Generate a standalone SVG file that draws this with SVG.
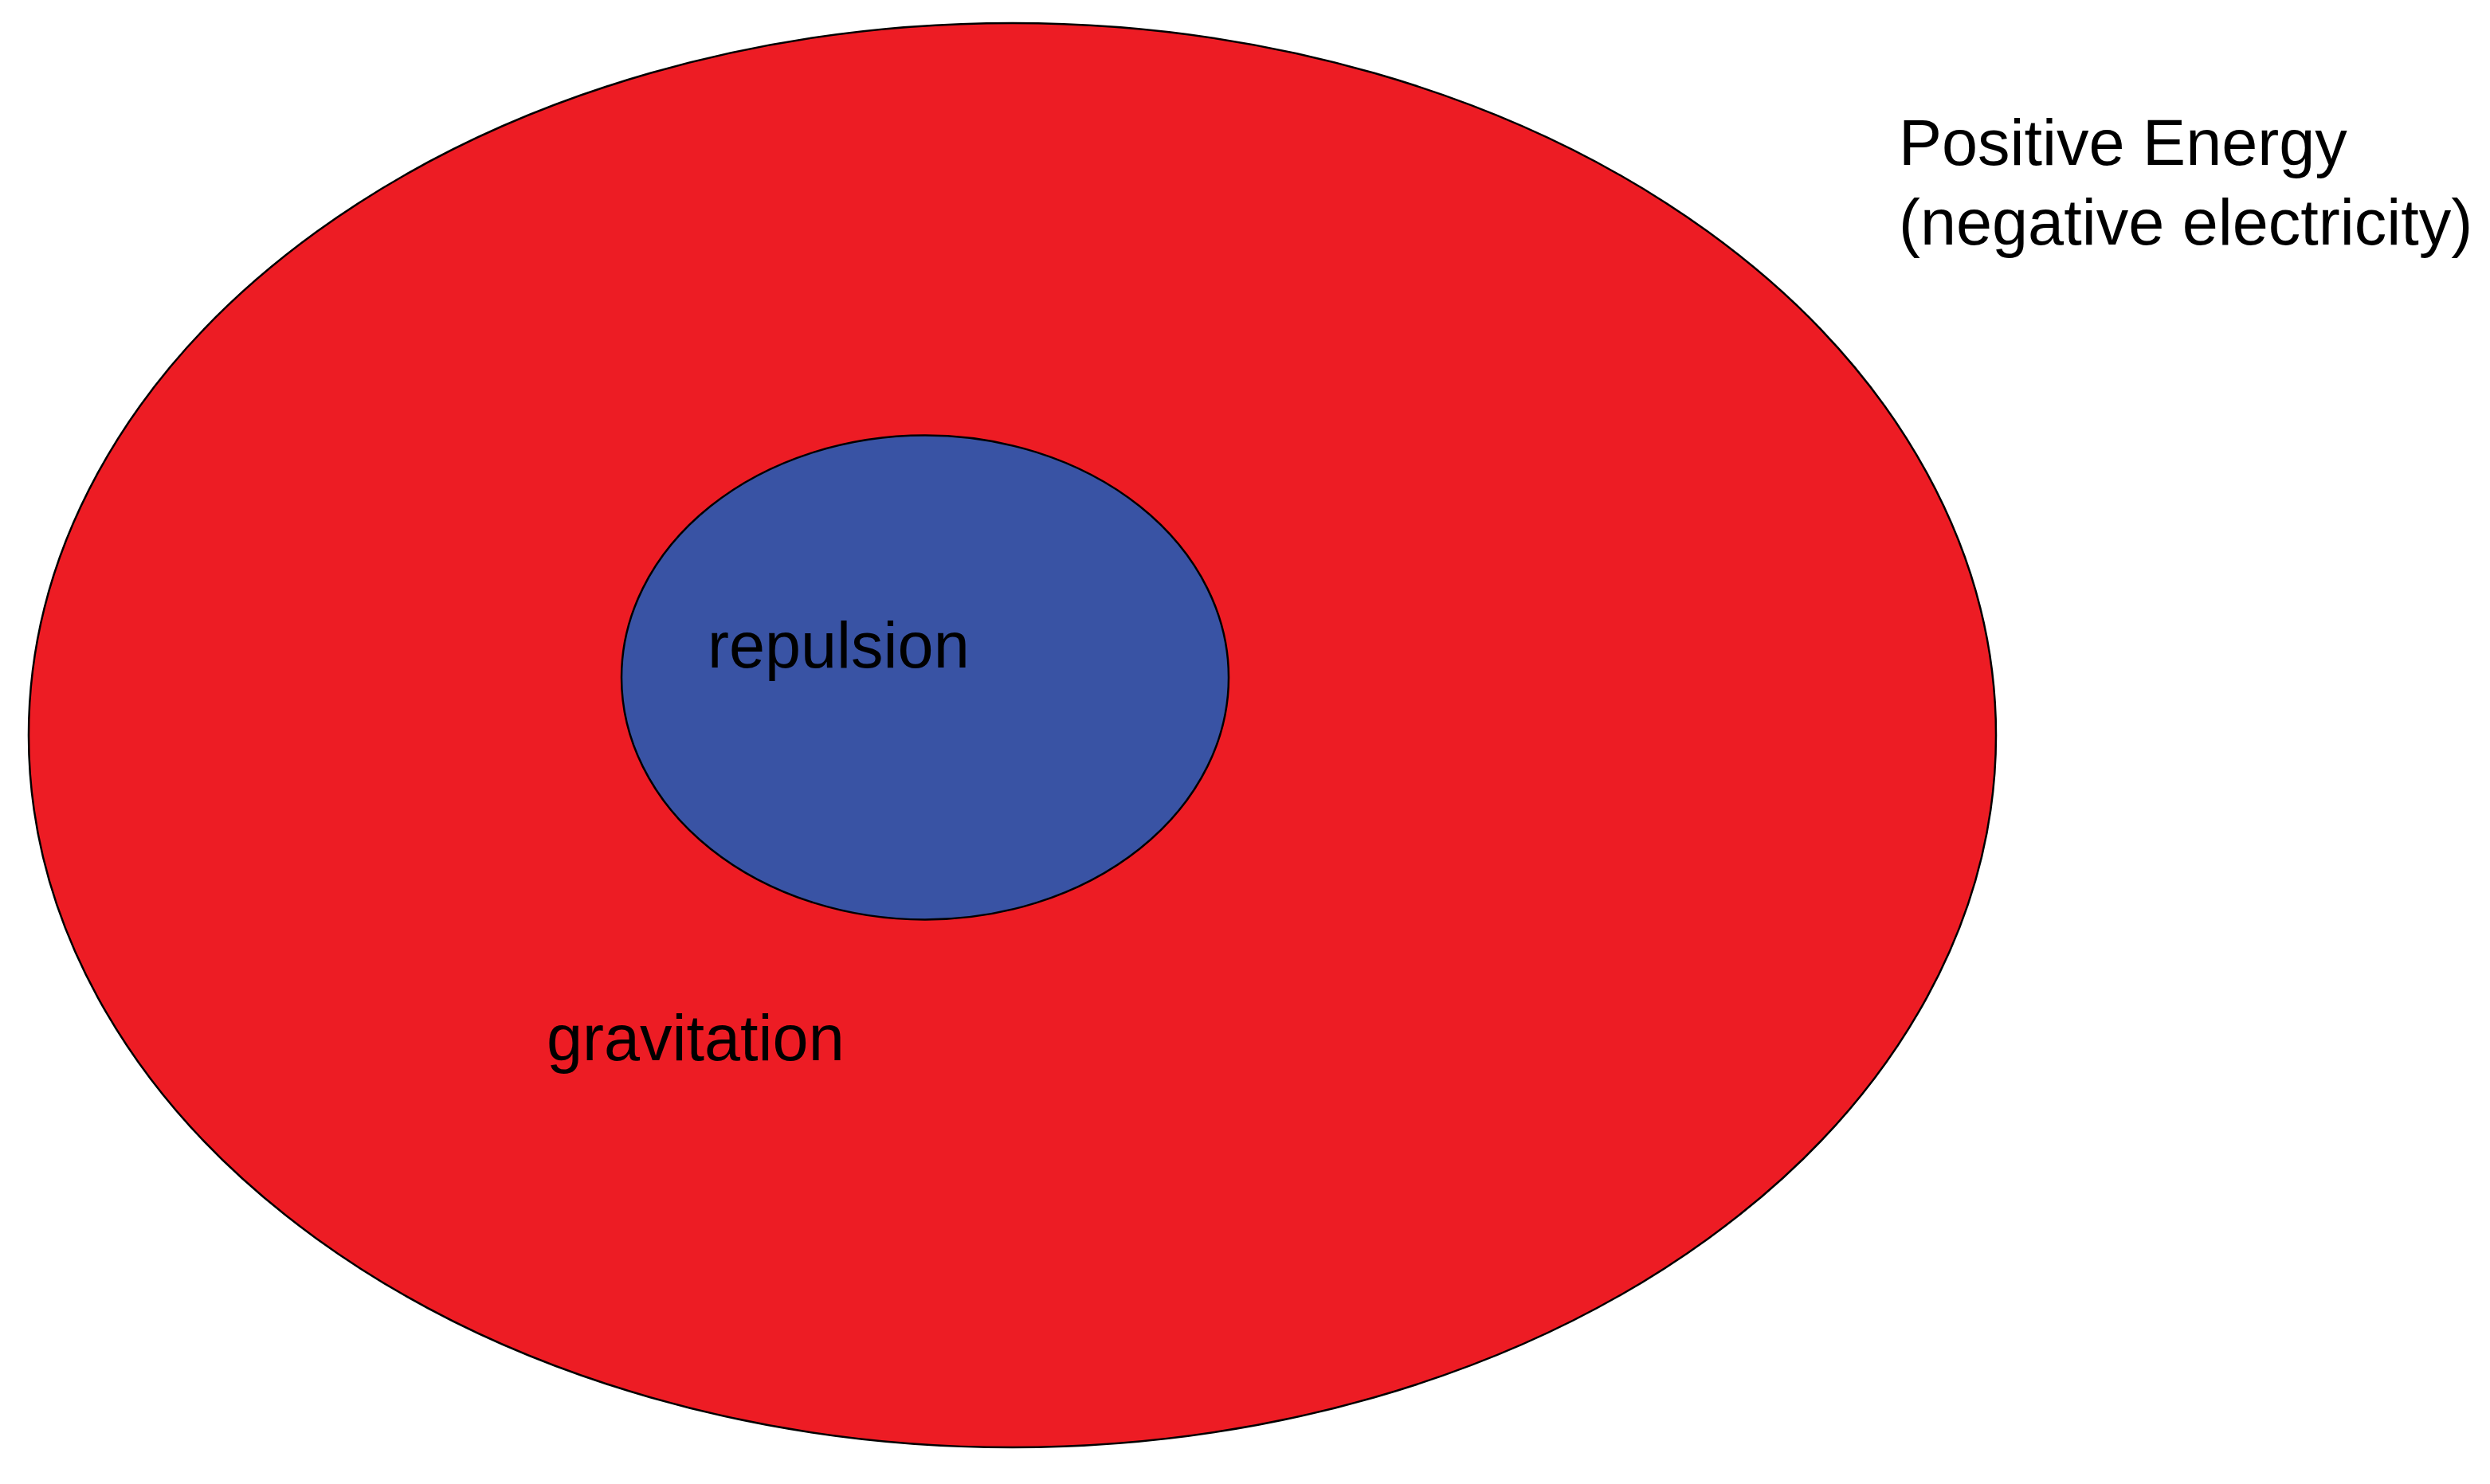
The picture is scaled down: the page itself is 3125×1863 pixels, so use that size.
<svg xmlns="http://www.w3.org/2000/svg" width="3125" height="1863" viewBox="0 0 3125 1863">
<style>
.lbl{font-family:"Liberation Sans",Arial,sans-serif;font-size:81px;fill:#000}
.shape{stroke:#000;stroke-width:2.5}
</style>
<rect width="3125" height="1863" fill="#fff"/>
<g id="outer">
<ellipse class="shape" cx="1270.5" cy="923" rx="1234.5" ry="894" fill="#ED1C24"/>
<text class="lbl" x="686" y="1331">gravitation</text>
</g>
<g id="inner">
<ellipse class="shape" cx="1161" cy="850.5" rx="381" ry="304" fill="#3953A4"/>
<text class="lbl" x="888" y="838">repulsion</text>
</g>
<g id="label">
<text class="lbl" x="2383" y="207">Positive Energy</text>
<text class="lbl" x="2383" y="307">(negative electricity)</text>
</g>
<g id="connectors"/>
</svg>
